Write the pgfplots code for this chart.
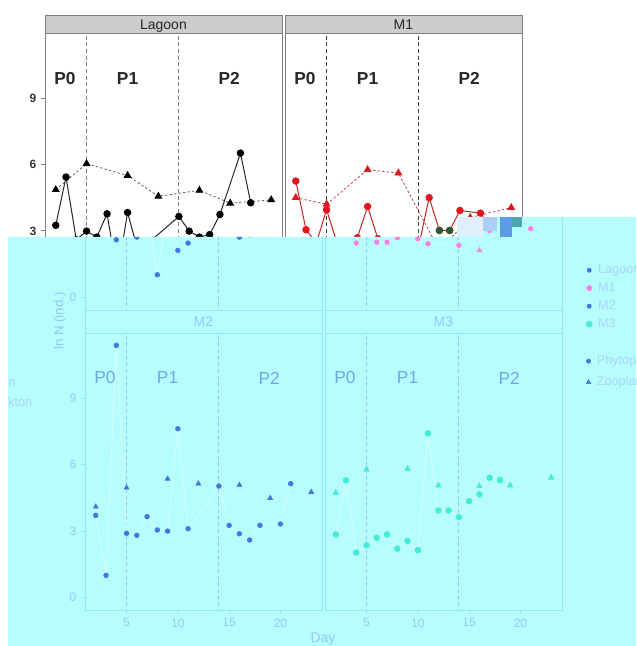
\documentclass[border=0pt]{standalone}
\usepackage{pgfplots}
\usepackage{pgfplotstable}
\usepackage{fontspec}
\setmainfont{Liberation Sans}
\pgfplotsset{compat=1.18}

% colours
\definecolor{stripfill}{RGB}{205,205,205}
\definecolor{frame}{RGB}{125,125,125}
\definecolor{siteRed}{RGB}{224,22,30}
\definecolor{siteRedLine}{RGB}{196,36,36}
\definecolor{oddGreen}{RGB}{48,88,52}
\definecolor{washBg}{RGB}{182,253,253}
\definecolor{washText}{RGB}{112,166,236}
\definecolor{washFaint}{RGB}{150,200,244}
\definecolor{washPale}{RGB}{170,212,248}
\definecolor{washFrame}{RGB}{150,228,246}
\definecolor{washLine}{RGB}{214,255,255}
\definecolor{washBlue}{RGB}{62,122,222}
\definecolor{washPink}{RGB}{252,128,226}
\definecolor{washTurq}{RGB}{66,236,214}
\definecolor{seamA}{RGB}{224,240,250}
\definecolor{seamB}{RGB}{172,206,246}
\definecolor{seamC}{RGB}{90,155,228}
\definecolor{seamD}{RGB}{92,156,230}
\definecolor{seamE}{RGB}{78,164,176}

% abundance by day: phytoplankton (P) and zooplankton (Z) per site
\pgfplotstableread{
day n
2 3.25
3 5.43
4 2.60
5 2.99
6 2.72
7 3.77
8 1.02
9 3.83
10 2.12
11 2.45
14 3.65
15 2.99
16 2.72
17 2.83
18 3.74
20 6.51
21 4.27
}\lagP
\pgfplotstableread{
day n
2 4.86
5 6.03
9 5.50
12 4.56
16 4.83
19 4.25
23 4.40
}\lagZ
\pgfplotstableread{
day n
2 5.25
3 3.05
4 2.45
5 3.95
6 2.49
7 2.49
8 2.69
9 4.10
10 2.65
11 2.42
14 2.35
15 4.50
16 3.02
17 3.02
18 3.92
20 3.80
21 3.10
}\mOneP
\pgfplotstableread{
day n
2 4.50
5 4.20
9 5.76
12 5.61
16 2.12
19 3.60
23 4.05
}\mOneZ
\pgfplotstableread{
day n
2 3.70
3 0.99
4 11.37
5 2.89
6 2.80
7 3.64
8 3.04
9 2.99
10 7.61
11 3.10
14 5.02
15 3.25
16 2.87
17 2.59
18 3.25
20 3.31
21 5.13
}\mTwoP
\pgfplotstableread{
day n
2 4.09
5 4.95
9 5.35
12 5.13
16 5.07
19 4.48
23 4.75
}\mTwoZ
\pgfplotstableread{
day n
2 2.84
3 5.28
4 2.02
5 2.35
6 2.69
7 2.84
8 2.20
9 2.54
10 2.13
11 7.40
12 3.92
13 3.92
14 3.62
15 4.34
16 4.65
17 5.40
18 5.29
}\mThreeP
\pgfplotstableread{
day n
2 4.72
5 5.77
9 5.80
12 5.05
16 5.02
19 5.05
23 5.40
}\mThreeZ

\tikzset{
  phase/.style={font=\bfseries\fontsize{13}{14}\selectfont, text=black!85},
  washphase/.style={font=\fontsize{13}{14}\selectfont, text=washText},
  striplabel/.style={anchor=base, font=\fontsize{10.5}{12}\selectfont},
}

\pgfplotsset{
  panel/.style={
    scale only axis, width=177.75pt, height=207.75pt, anchor=south west,
    xmin=0.95, xmax=24.05, ymin=-0.57, ymax=11.93,
    xtick=\empty, ytick=\empty, xtick pos=bottom, ytick pos=left,
    tick align=outside, major tick length=3pt,
    /pgf/number format/assume math mode=true,
  },
  clean/.style={panel,
    axis line style={draw=frame, line width=0.75pt},
    tick style={draw=frame, line width=0.6pt},
    yticklabel style={font=\bfseries\fontsize{9}{10}\selectfont, text=black!80}},
  wash/.style={panel,
    axis line style={draw=washFrame, line width=0.5pt},
    tick style={draw=washFrame, line width=0.5pt},
    ticklabel style={font=\fontsize{9}{10}\selectfont, text=washFaint}},
  period/.style={draw=#1, line width=0.6pt, dash pattern=on 3pt off 2pt},
  cP/.style 2 args={draw=#1, line width=0.75pt, mark=*, mark size=2.4pt,
    mark options={solid, draw=#2, fill=#2}},
  cZ/.style 2 args={draw=#1, line width=0.6pt, dash pattern=on 1.8pt off 1.6pt,
    mark=triangle*, mark size=2.9pt, mark options={solid, draw=#2, fill=#2}},
  wP/.style={draw=washLine, line width=0.6pt, mark=*, mark size=1.7pt,
    mark options={solid, draw=#1, fill=#1}},
  wZ/.style={draw=washLine, line width=0.5pt, dash pattern=on 1.8pt off 1.6pt,
    mark=triangle*, mark size=2.1pt, mark options={solid, draw=#1, fill=#1}},
  keybox/.style={hide axis, scale only axis, width=1pt, height=1pt,
    anchor=north west, xmin=0, xmax=1, ymin=0, ymax=1,
    legend cell align=left,
    legend style={at={(0,1)}, anchor=north west, draw=none, fill=none,
      font=\fontsize{9.5}{10}\selectfont, text=washPale, row sep=#1,
      /tikz/every odd column/.append style={column sep=2.5pt}}},
}

\begin{document}
\begin{tikzpicture}
\useasboundingbox (0pt,0pt) rectangle (477pt,484.5pt);

% ---------------- Lagoon ----------------
\begin{axis}[clean, at={(33.75pt,252pt)}, ytick={0,3,6,9}]
\addplot[period=frame] coordinates {(5,-1) (5,13)};
\addplot[period=frame] coordinates {(14,-1) (14,13)};
\addplot[cZ={gray!75!black}{black}] table {\lagZ};
\addplot[cP={black!85}{black}] table {\lagP};
\node[phase] at (axis cs:2.9,9.86) {P0};
\node[phase] at (axis cs:9,9.86) {P1};
\node[phase] at (axis cs:18.9,9.86) {P2};
\end{axis}
\draw[frame, fill=stripfill, line width=0.6pt] (33.75pt,459.75pt) rectangle (211.5pt,473.25pt);
\node[striplabel, text=black!85] at (122.6pt,462.4pt) {Lagoon};

% ---------------- M1 ----------------
\begin{axis}[clean, at={(213.75pt,252pt)}]
\addplot[period=black!75] coordinates {(5,-1) (5,13)};
\addplot[period=black!75] coordinates {(14,-1) (14,13)};
\addplot[cZ={siteRed!55!gray}{siteRed}] table {\mOneZ};
\addplot[cP={siteRedLine}{siteRed}] table {\mOneP};
\addplot[cP={oddGreen}{oddGreen}] coordinates {(16,3.02) (17,3.02)};
\node[phase] at (axis cs:2.9,9.86) {P0};
\node[phase] at (axis cs:9,9.86) {P1};
\node[phase] at (axis cs:18.9,9.86) {P2};
\end{axis}
\draw[frame, fill=stripfill, line width=0.6pt] (213.75pt,459.75pt) rectangle (391.5pt,473.25pt);
\node[striplabel, text=black!85] at (302.6pt,462.4pt) {M1};

% ---------------- washed lower band ----------------
\fill[washBg] (6pt,0pt) -- (6pt,306.75pt) -- (342.75pt,306.75pt) -- (342.75pt,321.75pt)
  -- (477pt,321.75pt) -- (477pt,0pt) -- cycle;

\begin{scope}
\clip (6pt,0pt) -- (6pt,306.75pt) -- (342.75pt,306.75pt) -- (342.75pt,321.75pt)
  -- (477pt,321.75pt) -- (477pt,0pt) -- cycle;

% Lagoon (washed)
\begin{axis}[wash, at={(63.75pt,252pt)}, ytick={0,3,6,9}]
\addplot[period=washFaint] coordinates {(5,-1) (5,13)};
\addplot[period=washFaint] coordinates {(14,-1) (14,13)};
\addplot[wZ=washBlue] table {\lagZ};
\addplot[wP=washBlue] table {\lagP};
\end{axis}

% M1 (washed)
\begin{axis}[wash, at={(243.75pt,252pt)}]
\addplot[period=washFaint] coordinates {(5,-1) (5,13)};
\addplot[period=washFaint] coordinates {(14,-1) (14,13)};
\addplot[wZ=washPink] table {\mOneZ};
\addplot[wP=washPink] table {\mOneP};
\end{axis}

% M2 (washed)
\begin{axis}[wash, at={(63.75pt,27pt)}, ytick={0,3,6,9}, xtick={5,10,15,20}]
\addplot[period=washFaint] coordinates {(5,-1) (5,13)};
\addplot[period=washFaint] coordinates {(14,-1) (14,13)};
\addplot[wZ=washBlue] table {\mTwoZ};
\addplot[wP=washBlue] table {\mTwoP};
\node[washphase] at (axis cs:2.9,9.9) {P0};
\node[washphase] at (axis cs:9,9.9) {P1};
\node[washphase] at (axis cs:18.9,9.9) {P2};
\end{axis}
\draw[washFrame, line width=0.5pt] (63.75pt,234.75pt) rectangle (241.5pt,252pt);
\node[striplabel, text=washFaint] at (152.6pt,239.5pt) {M2};

% M3 (washed)
\begin{axis}[wash, at={(243.75pt,27pt)}, xtick={5,10,15,20}]
\addplot[period=washFaint] coordinates {(5,-1) (5,13)};
\addplot[period=washFaint] coordinates {(14,-1) (14,13)};
\addplot[wZ=washTurq, mark size=2.3pt] table {\mThreeZ};
\addplot[wP=washTurq, mark size=2.1pt] table {\mThreeP};
\node[washphase] at (axis cs:2.9,9.9) {P0};
\node[washphase] at (axis cs:9,9.9) {P1};
\node[washphase] at (axis cs:18.9,9.9) {P2};
\end{axis}
\draw[washFrame, line width=0.5pt] (243.75pt,234.75pt) rectangle (421.5pt,252pt);
\node[striplabel, text=washFaint] at (332.6pt,239.5pt) {M3};

% axis titles
\node[font=\fontsize{10.5}{12}\selectfont, text=washFaint] at (242.25pt,5pt) {Day};
\node[rotate=90, font=\fontsize{10}{12}\selectfont, text=washFaint] at (45pt,243.75pt) {ln N (ind.)};

% legends: site colour and plankton group
\begin{axis}[keybox=1.4pt, at={(436.5pt,290pt)}]
\addlegendimage{only marks, mark=*, mark size=1.6pt, washBlue}
\addlegendentry{Lagoon}
\addlegendimage{only marks, mark=*, mark size=2pt, washPink}
\addlegendentry{M1}
\addlegendimage{only marks, mark=*, mark size=1.6pt, washBlue}
\addlegendentry{M2}
\addlegendimage{only marks, mark=*, mark size=2.2pt, washTurq}
\addlegendentry{M3}
\end{axis}
\begin{axis}[keybox=3.5pt, at={(436.5pt,222pt)}]
\addlegendimage{only marks, mark=*, mark size=1.6pt, washBlue}
\addlegendentry{Phytoplankton}
\addlegendimage{only marks, mark=triangle*, mark size=2pt, washBlue}
\addlegendentry{Zooplankton}
\end{axis}

\node[anchor=west, inner sep=0pt, font=\fontsize{9.5}{10}\selectfont, text=washPale] at (6pt,197.5pt) {n};
\node[anchor=west, inner sep=0pt, font=\fontsize{9.5}{10}\selectfont, text=washPale] at (6pt,183pt) {kton};
\end{scope}

% blocky patches at the seam
\fill[seamA] (342.75pt,306.75pt) rectangle (362.5pt,321.75pt);
\fill[seamB] (362.5pt,311.25pt) rectangle (373pt,321.75pt);
\fill[seamC] (375pt,306.75pt) rectangle (384pt,314pt);
\fill[seamD] (375pt,314pt) rectangle (391.5pt,321.75pt);
\fill[seamE] (384pt,314pt) rectangle (391.5pt,321.75pt);
\end{tikzpicture}
\end{document}
